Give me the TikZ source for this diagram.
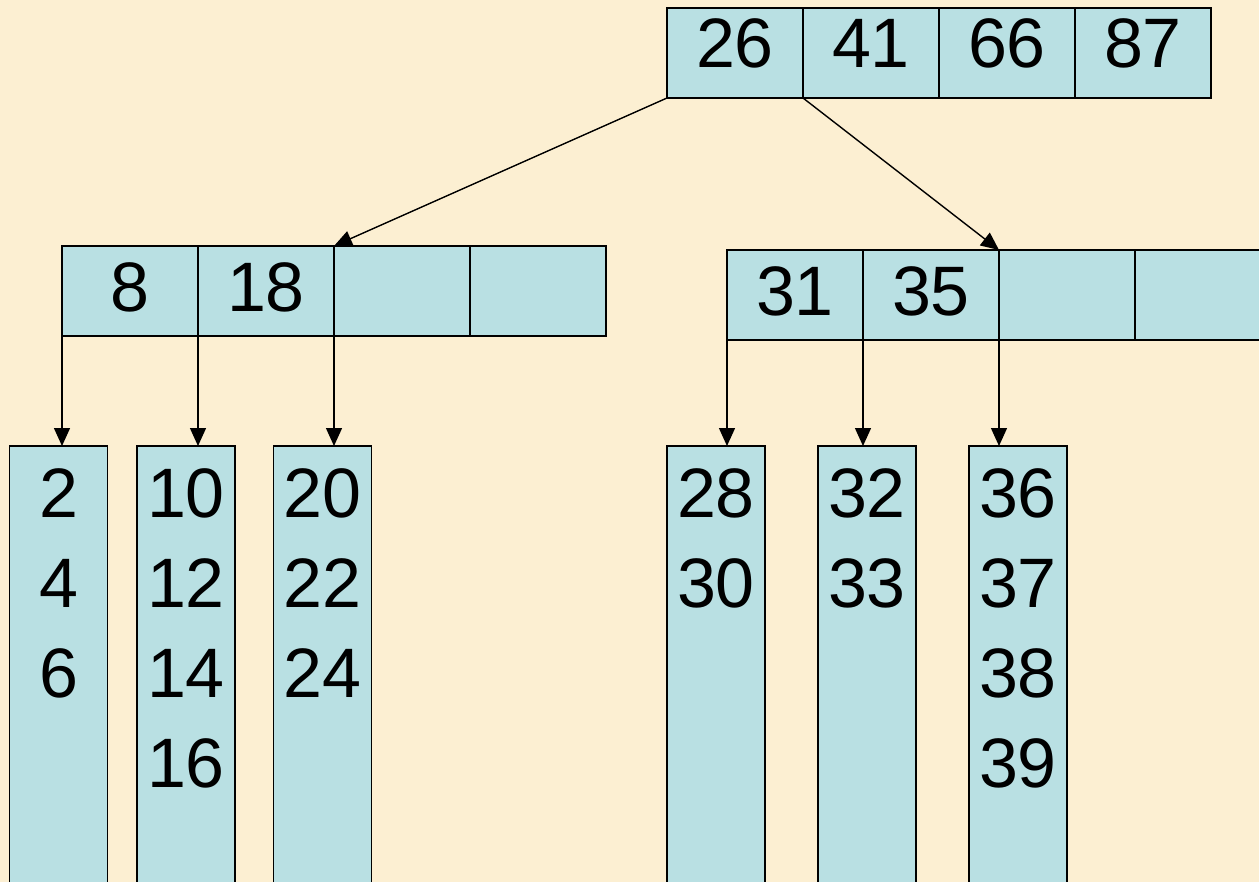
\documentclass[tikz,border=0pt]{standalone}
\usepackage{fontspec}
\setmainfont{Liberation Sans}
\usetikzlibrary{positioning,arrows.meta}
\definecolor{paper}{HTML}{FCEFD2}
\definecolor{cellblue}{HTML}{B9E0E3}

\begin{document}
\begin{tikzpicture}[x=0.5pt,y=-0.5pt,
				every node/.style={font=\fontsize{35}{45}\selectfont},
				cell/.style={draw,fill=cellblue,line width=0.7pt,minimum width=68pt,minimum height=45pt,
					inner sep=0pt,outer sep=0pt,text depth=4pt,node distance=0pt},
				rootcell/.style={cell,text depth=10pt},
				leaf/.style={draw,fill=cellblue,line width=0.7pt,minimum width=49pt,minimum height=230pt,
					inner sep=0pt,outer sep=0pt,anchor=north},
				keys/.style={align=center,inner sep=0pt,node distance=11pt},
				link/.style={line width=0.7pt,-{Triangle[length=9pt,width=8pt]}}]
				\fill[paper] (0,0) rectangle (1259,882);
				\useasboundingbox (0,0) rectangle (1259,882);

				% root
				\node (R1) [rootcell] at (735,53) {26};
				\node (R2) [rootcell,right=of R1] {41};
				\node (R3) [rootcell,right=of R2] {66};
				\node (R4) [rootcell,right=of R3] {87};

				% second level
				\node (A1) [cell] at (130,291) {8};
				\node (A2) [cell,right=of A1] {18};
				\node (A3) [cell,right=of A2] {};
				\node (A4) [cell,right=of A3] {};
				\node (B1) [cell] at (795,295) {31};
				\node (B2) [cell,right=of B1] {35};
				\node (B3) [cell,right=of B2] {};
				\node (B4) [cell,right=of B3] {};

				% leaves
				\node (LA1) [leaf] at (58.5,446) {};
				\node (LA2) [leaf] at (186,446) {};
				\node (LA3) [leaf] at (322.5,446) {};
				\node (LB1) [leaf] at (716,446) {};
				\node (LB2) [leaf] at (867,446) {};
				\node (LB3) [leaf] at (1018,446) {};
				\node (KA1) [keys,below=of LA1.north] {2\\4\\6};
				\node (KA2) [keys,below=of LA2.north] {10\\12\\14\\16};
				\node (KA3) [keys,below=of LA3.north] {20\\22\\24};
				\node (KB1) [keys,below=of LB1.north] {28\\30};
				\node (KB2) [keys,below=of LB2.north] {32\\33};
				\node (KB3) [keys,below=of LB3.north] {36\\37\\38\\39};

				\draw[link] (R1.south west) -- (A3.north west);
				\draw[link] (R2.south west) -- (B3.north west);
				\draw[link] (A1.south west) -- (A1.south west |- LA1.north);
				\draw[link] (A2.south west) -- (A2.south west |- LA2.north);
				\draw[link] (A3.south west) -- (A3.south west |- LA3.north);
				\draw[link] (B1.south west) -- (B1.south west |- LB1.north);
				\draw[link] (B2.south west) -- (B2.south west |- LB2.north);
				\draw[link] (B3.south west) -- (B3.south west |- LB3.north);
			\end{tikzpicture}
\end{document}
